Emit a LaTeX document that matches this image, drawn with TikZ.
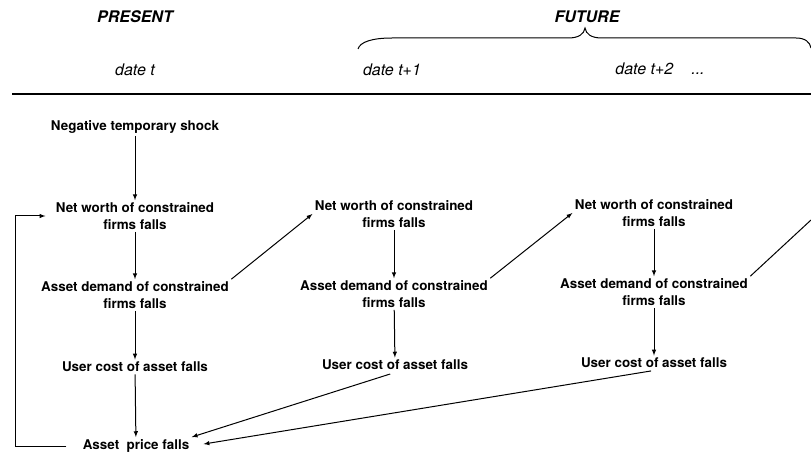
\documentclass[tikz,border=0pt]{standalone}
\usepackage{fontspec}
\setmainfont{TeX Gyre Heros}
\begin{document}
\begin{tikzpicture}
    [
    x=1pt,y=-1pt,
    line width=1pt,
    effect/.style={align=center,inner sep=2pt,font=\bfseries\fontsize{13.4}{16.5}\selectfont},
    period/.style={font=\bfseries\itshape\fontsize{16}{19}\selectfont},
    date/.style={font=\itshape\fontsize{16}{19}\selectfont},
    ]
    \useasboundingbox (0,0) rectangle (811,457);
    \node (present) at (135,17) [period] {PRESENT};
    \node (future) at (587,17) [period] {FUTURE};
    \node (datet) at (135,70) [date] {date t};
    \node (datet1) at (392,70) [date] {date t+1};
    \node (datet2) at (660,69) [date] {date t+2\hspace{18pt}...};
    \draw (358,49) .. controls (360,42) and (372,38) .. (392,38) -- (568,38)
      .. controls (579,38) and (584,34) .. (585,28)
      .. controls (586,34) and (591,38) .. (602,38) -- (796,38)
      .. controls (805,38) and (810,42) .. (811,48);
    \draw [line width=1.4pt] (12,94) -- (811,94);
    \node (shock) at (135,127) [effect] {Negative temporary shock};
    \node (nw1) at (135,216) [effect] {Net worth of constrained\\firms falls};
    \node (ad1) at (135,295) [effect] {Asset demand of constrained\\firms falls};
    \node (uc1) at (135,367) [effect] {User cost of asset falls};
    \node (ap1) at (136,446) [effect] {Asset~ price falls};
    \node (nw2) at (394,214) [effect] {Net worth of constrained\\firms falls};
    \node (ad2) at (394,294) [effect] {Asset demand of constrained\\firms falls};
    \node (uc2) at (395,365) [effect] {User cost of asset falls};
    \node (nw3) at (654,213) [effect] {Net worth of constrained\\firms falls};
    \node (ad3) at (654,292) [effect] {Asset demand of constrained\\firms falls};
    \node (uc3) at (654,363) [effect] {User cost of asset falls};
    \coordinate (loop) at (15,0);
    \coordinate (beyond) at (811,220);
    \draw [-latex] (shock) to (nw1);
    \draw [-latex] (nw1) to (ad1);
    \draw [-latex] (ad1) to (uc1);
    \draw [-latex] (uc1) to (ap1);
    \draw [-latex] (nw2) to (ad2);
    \draw [-latex] (ad2) to (uc2);
    \draw [-latex] (nw3) to (ad3);
    \draw [-latex] (ad3) to (uc3);
    \draw [-latex] (ad1.north east) to (nw2.west);
    \draw [-latex] (ad2.north east) to (nw3.west);
    \draw (ad3.north east) to (beyond);
    \draw [-latex,shorten <=5pt] (uc2.south) to (ap1.north east);
    \draw [-latex,shorten <=3pt,shorten >=12pt] (uc3.south) to (ap1.east);
    \draw [-latex,shorten <=14pt,shorten >=8pt] (ap1.west) -- (ap1.west -| loop) |- (nw1.west);
  \end{tikzpicture}
\end{document}
